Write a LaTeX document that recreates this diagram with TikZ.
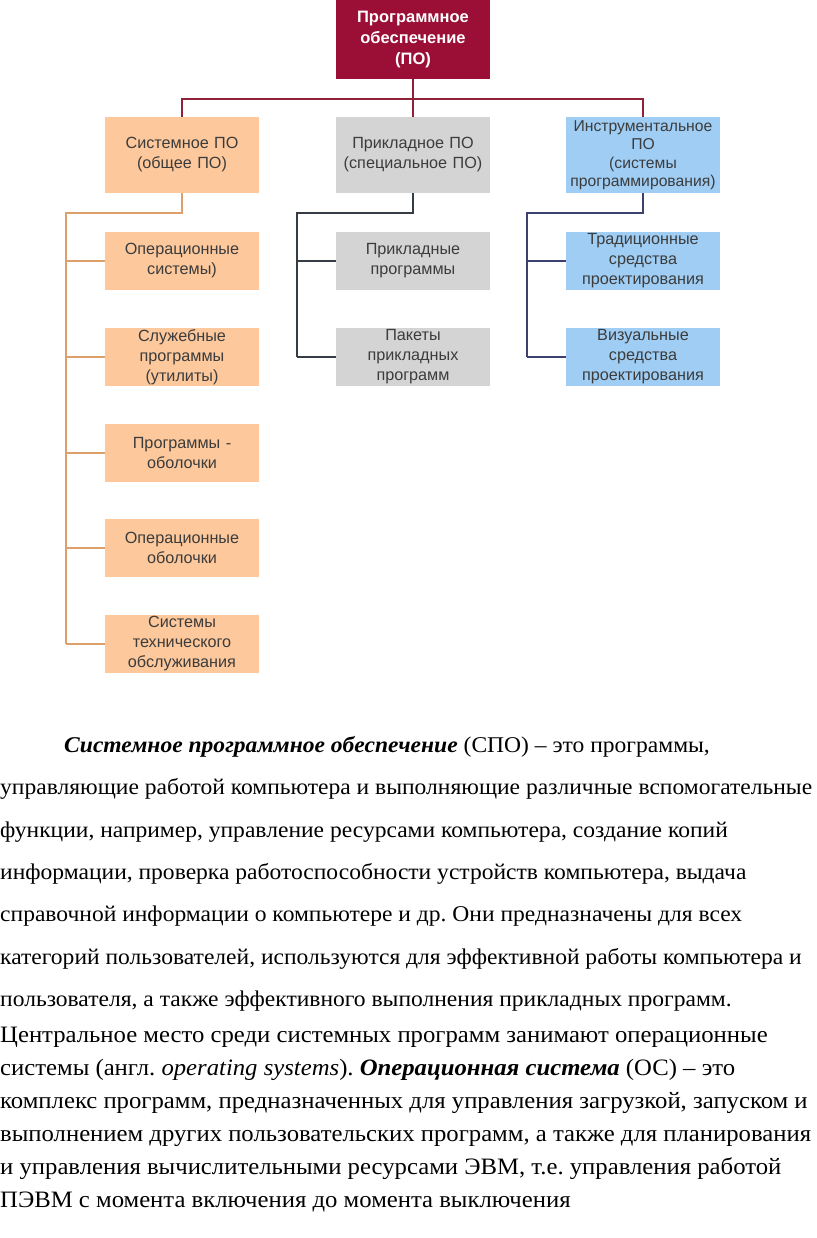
\documentclass[tikz,border=0pt]{standalone}
\usepackage{fontspec}
\setmainfont{Liberation Serif}
\newfontfamily\boxfont{Liberation Sans}
\usepackage{graphicx}
\definecolor{rootred}{HTML}{9B0E36}
\definecolor{busred}{HTML}{8E2239}
\definecolor{peach}{HTML}{FCC89C}
\definecolor{greybox}{HTML}{D4D4D4}
\definecolor{bluebox}{HTML}{9FCDF4}
\definecolor{orangeline}{HTML}{DDA06A}
\definecolor{darkline}{HTML}{363C44}
\definecolor{navyline}{HTML}{3C416E}
\definecolor{boxtext}{HTML}{3C3C3C}
\newsavebox\reflinebox
\newsavebox\reflineboxb
\newcommand\bodysize{\fontsize{22.5}{27}\selectfont}
\newcommand\bodysizeb{\fontsize{23.5}{28}\selectfont}
\frenchspacing
\begin{document}
\frenchspacing
\sbox\reflinebox{\bodysize управляющие работой компьютера и выполняющие различные вспомогательные}%
\pgfmathsetmacro\sx{812/\the\wd\reflinebox}%
\sbox\reflineboxb{\bodysizeb выполнением других пользовательских программ, а также для планирования}%
\pgfmathsetmacro\sxb{811/\the\wd\reflineboxb}%
\begin{tikzpicture}[x=1pt,y=-1pt,
  box/.style={inner sep=0pt, minimum width=154pt, text width=154pt, align=center,
    font=\boxfont\fontsize{16.2}{20}\selectfont, text=boxtext},
  lvltwo/.style={box, minimum height=76pt},
  leaf/.style={box, minimum height=58pt},
  sysfill/.style={fill=peach},
  appfill/.style={fill=greybox},
  insfill/.style={fill=bluebox},
  busln/.style={draw=busred, line width=2pt},
  sysln/.style={draw=orangeline, line width=2.5pt},
  appln/.style={draw=darkline, line width=2.5pt},
  insln/.style={draw=navyline, line width=2.5pt},
  bodyline/.style={anchor=base west, inner sep=0pt, font=\bodysize},
  bodylineb/.style={anchor=base west, inner sep=0pt, font=\bodysizeb}
]
\useasboundingbox (0,0) rectangle (816,1238);

% top
\node[box, fill=rootred, text=white, minimum height=79pt,
  font=\boxfont\bfseries\fontsize{16.5}{21}\selectfont] (root) at (413,39.5)
  {Программное\\обеспечение\\(ПО)};

\node[lvltwo, sysfill] (sys) at (182,155) {Системное ПО\\(общее ПО)};
\node[lvltwo, appfill] (app) at (413,155) {Прикладное ПО\\(специальное ПО)};
\node[lvltwo, insfill, font=\boxfont\fontsize{15.7}{18.5}\selectfont] (ins) at (643,155)
  {Инструментальное\\ПО\\(системы\\программирования)};

\coordinate (busL) at (182,99);
\coordinate (busR) at (643,99);
\draw[busln] (sys.north) -- (busL) -- (busR) -- (ins.north);
\draw[busln] (root.south) -- (app.north);

% left column
\node[leaf, sysfill] (s1) at (182,261) {Операционные\\системы)};
\node[leaf, sysfill] (s2) at (182,357) {Служебные\\программы\\(утилиты)};
\node[leaf, sysfill] (s3) at (182,453) {Программы -\\оболочки};
\node[leaf, sysfill] (s4) at (182,548) {Операционные\\оболочки};
\node[leaf, sysfill] (s5) at (182,644) {Системы\\технического\\обслуживания};

\coordinate (sT) at (66,213);
\coordinate (sB) at (66,644);
\draw[sysln] (sys.south) |- (sT) -- (sB);
\foreach \n in {s1,s2,s3,s4,s5} \draw[sysln] (\n.west) -- (\n.west -| sT);

% middle column
\node[leaf, appfill] (a1) at (413,261) {Прикладные\\программы};
\node[leaf, appfill] (a2) at (413,357) {Пакеты\\прикладных\\программ};
\coordinate (aT) at (297,213);
\coordinate (aB) at (297,357);
\draw[appln] (app.south) |- (aT) -- (aB);
\foreach \n in {a1,a2} \draw[appln] (\n.west) -- (\n.west -| aT);

% right column
\node[leaf, insfill] (i1) at (643,261) {Традиционные\\средства\\проектирования};
\node[leaf, insfill] (i2) at (643,357) {Визуальные\\средства\\проектирования};
\coordinate (iT) at (527,213);
\coordinate (iB) at (527,357);
\draw[insln] (ins.south) |- (iT) -- (iB);
\foreach \n in {i1,i2} \draw[insln] (\n.west) -- (\n.west -| iT);

% body text, paragraph 1
\node[bodyline] (t1) at (64,752) {\scalebox{\sx}[1]{\textbf{\textit{Системное программное обеспечение}} (СПО) – это программы,}};
\node[bodyline] (t2) at (0,794) {\scalebox{\sx}[1]{управляющие работой компьютера и выполняющие различные вспомогательные}};
\node[bodyline] (t3) at (0,837) {\scalebox{\sx}[1]{функции, например, управление ресурсами компьютера, создание копий}};
\node[bodyline] (t4) at (0,879) {\scalebox{\sx}[1]{информации, проверка работоспособности устройств компьютера, выдача}};
\node[bodyline] (t5) at (0,921) {\scalebox{\sx}[1]{справочной информации о компьютере и др. Они предназначены для всех}};
\node[bodyline] (t6) at (0,964) {\scalebox{\sx}[1]{категорий пользователей, используются для эффективной работы компьютера и}};
\node[bodyline] (t7) at (0,1006) {\scalebox{\sx}[1]{пользователя, а также эффективного выполнения прикладных программ.}};

% body text, paragraph 2
\node[bodylineb] (t8) at (0,1042) {\scalebox{\sxb}[1]{Центральное место среди системных программ занимают операционные}};
\node[bodylineb] (t9) at (0,1075) {\scalebox{\sxb}[1]{системы (англ. \textit{operating systems}). \textbf{\textit{Операционная система}} (ОС) – это}};
\node[bodylineb] (t10) at (0,1108) {\scalebox{\sxb}[1]{комплекс программ, предназначенных для управления загрузкой, запуском и}};
\node[bodylineb] (t11) at (0,1141) {\scalebox{\sxb}[1]{выполнением других пользовательских программ, а также для планирования}};
\node[bodylineb] (t12) at (0,1174) {\scalebox{\sxb}[1]{и управления вычислительными ресурсами ЭВМ, т.е. управления работой}};
\node[bodylineb] (t13) at (0,1207) {\scalebox{\sxb}[1]{ПЭВМ с момента включения до момента выключения}};
\end{tikzpicture}
\end{document}
